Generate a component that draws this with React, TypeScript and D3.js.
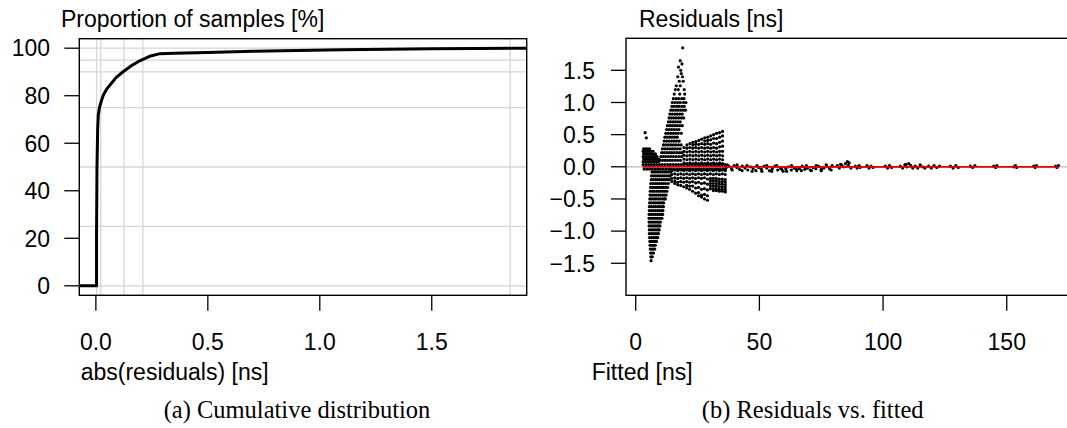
import React from 'react';
import * as d3 from 'd3';

// ---- panel (a): cumulative distribution of abs(residuals)
const ecdfX = [0.003, 0.003, 0.005, 0.008, 0.011, 0.016, 0.025, 0.034, 0.05, 0.064, 0.09, 0.123, 0.16, 0.198, 0.24, 0.287, 0.35, 0.5, 0.7, 0.9, 1.1, 1.3, 1.5, 1.7, 1.85];
const ecdfY = [0, 22, 50, 66, 72, 75, 78, 80.4, 83, 84.6, 87.6, 90.2, 92.7, 94.8, 96.6, 97.7, 97.9, 98.2, 98.7, 99.0, 99.3, 99.6, 99.8, 99.9, 100];
const gridProbs = [0, 25, 50, 75, 90, 95, 100];
const gridQuantiles = [0.003, 0.022, 0.126, 0.21, 1.85];
const absTicks = [0, 0.5, 1, 1.5];
const pctTicks = [0, 20, 40, 60, 80, 100];

// ---- panel (b): residuals vs fitted
const fittedTicks = [0, 50, 100, 150];
const residTicks = [-1.5, -1, -0.5, 0, 0.5, 1, 1.5];
const fittedRange = [2.8, 171];
const residRange = [-1.85, 1.85];
const smoothX = [2.8, 20, 60, 120, 171];
const smoothY = [0, 0.002, -0.003, 0, 0];

// rows: [residual, fitted...]
const negSpikeRows = [
  [-0.08, 6.6, 7.4, 8.3, 9.1, 10.0, 10.8, 11.7, 12.5, 13.4, 14.2],
  [-0.14, 6.4, 7.3, 8.1, 9.0, 9.8, 10.7, 11.5, 12.4, 13.2, 13.9],
  [-0.20, 6.3, 7.1, 8.0, 8.8, 9.7, 10.5, 11.4, 12.2, 13.0, 13.6],
  [-0.26, 6.1, 7.0, 7.8, 8.7, 9.5, 10.4, 11.2, 12.1, 13.2],
  [-0.32, 6.0, 6.9, 7.7, 8.6, 9.4, 10.3, 11.1, 12.0, 12.9],
  [-0.38, 5.9, 6.8, 7.6, 8.5, 9.3, 10.2, 11.0, 11.8, 12.6],
  [-0.44, 5.8, 6.6, 7.5, 8.3, 9.2, 10.0, 10.9, 11.6, 12.3],
  [-0.50, 5.7, 6.5, 7.4, 8.2, 9.1, 9.9, 10.8, 11.5, 12.0],
  [-0.56, 5.6, 6.4, 7.3, 8.1, 9.0, 9.8, 10.6, 11.3],
  [-0.62, 5.5, 6.3, 7.2, 8.0, 8.9, 9.7, 10.5, 11.2],
  [-0.68, 5.5, 6.3, 7.1, 8.0, 8.8, 9.6, 10.4, 11.0],
  [-0.74, 5.4, 6.2, 7.1, 7.9, 8.7, 9.5, 10.3, 10.9],
  [-0.80, 5.4, 6.2, 7.0, 7.8, 8.6, 9.4, 10.1, 10.6],
  [-0.86, 5.4, 6.2, 7.0, 7.8, 8.6, 9.3, 10.0],
  [-0.92, 5.4, 6.2, 7.0, 7.8, 8.5, 9.2, 9.8],
  [-0.98, 5.5, 6.3, 7.0, 7.8, 8.5, 9.1, 9.5],
  [-1.04, 5.5, 6.3, 7.0, 7.8, 8.6, 9.2],
  [-1.10, 5.6, 6.4, 7.1, 7.8, 8.4, 8.9],
  [-1.16, 5.7, 6.4, 7.1, 7.8, 8.4],
  [-1.22, 5.8, 6.5, 7.2, 7.9],
  [-1.28, 5.9, 6.6, 7.2, 7.7],
  [-1.34, 6.0, 6.6, 7.2],
  [-1.40, 6.1, 6.7],
  [-1.46, 6.2],
];

const posSpikeRows = [
  [1.85, 19.0],
  [1.65, 18.0],
  [1.60, 18.7],
  [1.55, 17.3],
  [1.50, 18.2],
  [1.45, 18.4],
  [1.40, 17.0, 18.9],
  [1.33, 17.6, 19.2],
  [1.26, 16.4, 18.0],
  [1.20, 16.0, 17.2, 19.6],
  [1.13, 15.6, 17.8, 19.8],
  [1.06, 15.2, 16.4, 17.4, 18.6, 19.5],
  [1.00, 14.8, 15.9, 17.0, 18.0, 19.3, 20.3],
  [0.94, 14.6, 15.5, 16.6, 17.5, 18.6, 19.6],
  [0.88, 14.2, 15.2, 16.2, 17.2, 18.2, 19.2, 20.1],
  [0.82, 13.8, 14.8, 15.8, 16.8, 17.8, 18.8],
  [0.76, 13.5, 14.4, 15.4, 16.4, 17.4, 18.5, 19.4],
  [0.70, 13.2, 14.1, 15.1, 16.0, 17.0, 18.0],
  [0.64, 12.8, 13.8, 14.8, 15.8, 16.8, 17.8, 18.8],
  [0.58, 12.5, 13.5, 14.5, 15.5, 16.5, 17.5],
  [0.52, 12.2, 13.2, 14.2, 15.2, 16.2, 17.2, 18.4],
  [0.46, 11.8, 12.8, 13.8, 14.8, 15.8, 16.8],
  [0.40, 11.5, 12.5, 13.5, 14.5, 15.5, 16.5, 17.6],
  [0.34, 11.2, 12.2, 13.2, 14.2, 15.2, 16.2, 17.3, 18.4],
  [0.28, 10.8, 11.8, 12.8, 13.8, 14.8, 15.8, 16.9, 18.0],
  [0.22, 10.5, 11.5, 12.5, 13.5, 14.5, 15.5, 16.6, 17.7, 18.7],
  [0.16, 10.2, 11.2, 12.2, 13.2, 14.2, 15.2, 16.3, 17.4, 18.5],
  [0.10, 9.8, 10.8, 11.8, 12.8, 13.8, 14.8, 15.9, 17.0, 18.1],
];

const leftClusterRows = [
  [0.53, 3.8],
  [0.45, 4.3],
  [0.28, 3.2, 4.0, 4.8, 5.6],
  [0.24, 3.0, 3.8, 4.6, 5.4, 6.2, 7.0],
  [0.20, 3.2, 4.0, 4.8, 5.6, 6.4, 7.2, 8.0],
  [0.16, 3.0, 3.8, 4.6, 5.4, 6.2, 7.0, 7.8, 8.6],
  [0.12, 3.2, 4.0, 4.8, 5.6, 6.4, 7.2, 8.0, 8.8, 9.4],
  [0.08, 3.0, 3.8, 4.6, 5.4, 6.2, 7.0, 7.8, 8.6, 9.2],
];

const zeroBandRows = [
  [0.035, 3.0, 4.1, 5.2, 6.3, 7.4, 8.5, 9.6, 10.7, 11.8, 12.9, 14.0, 15.1, 16.2, 17.3, 18.4, 19.5, 20.6, 21.7, 22.8, 23.9, 25.0, 26.1, 27.2, 28.3, 29.4, 30.5, 31.6, 32.7, 33.8, 34.9, 36.0],
  [-0.035, 3.4, 4.5, 5.6, 6.7, 7.8, 8.9, 10.0, 11.1, 12.2, 13.3, 14.4, 15.5, 16.6, 17.7, 18.8, 19.9, 21.0, 22.1, 23.2, 24.3, 25.4, 26.5, 27.6, 28.7, 29.8, 30.9, 32.0, 33.1, 34.2, 35.3, 36.2],
];

// columns: [fitted, residual...]
const upperFanCols = [
  [19.5, 0.06, 0.12, 0.18, 0.24, 0.30],
  [20.7, 0.05, 0.11, 0.17, 0.23, 0.29, 0.34],
  [21.9, 0.06, 0.12, 0.18, 0.24, 0.30, 0.36],
  [23.1, 0.05, 0.11, 0.17, 0.23, 0.29, 0.34, 0.38],
  [24.3, 0.06, 0.12, 0.18, 0.24, 0.30, 0.35, 0.39],
  [25.5, 0.05, 0.11, 0.17, 0.23, 0.29, 0.35, 0.41],
  [26.7, 0.06, 0.12, 0.18, 0.24, 0.30, 0.36, 0.43],
  [27.9, 0.05, 0.11, 0.17, 0.23, 0.29, 0.35, 0.40, 0.45],
  [29.1, 0.06, 0.12, 0.18, 0.24, 0.30, 0.36, 0.41, 0.46],
  [30.3, 0.05, 0.11, 0.17, 0.23, 0.29, 0.35, 0.42, 0.48],
  [31.5, 0.06, 0.12, 0.18, 0.24, 0.30, 0.37, 0.44, 0.50],
  [32.7, 0.05, 0.11, 0.17, 0.23, 0.29, 0.36, 0.44, 0.52],
  [33.9, 0.06, 0.12, 0.18, 0.24, 0.31, 0.38, 0.46, 0.53],
  [35.1, 0.05, 0.11, 0.17, 0.24, 0.32, 0.40, 0.48, 0.55],
];

const lowerFanCols = [
  [14.6, -0.06, -0.12, -0.18, -0.23],
  [15.8, -0.05, -0.11, -0.17, -0.22, -0.26],
  [17.0, -0.06, -0.12, -0.18, -0.24, -0.28],
  [18.2, -0.05, -0.11, -0.17, -0.23, -0.29],
  [19.4, -0.06, -0.12, -0.18, -0.24, -0.31],
  [20.6, -0.05, -0.11, -0.17, -0.23, -0.29, -0.33],
  [21.8, -0.06, -0.12, -0.18, -0.24, -0.30, -0.35],
  [23.0, -0.05, -0.11, -0.17, -0.23, -0.30, -0.38],
  [24.2, -0.06, -0.12, -0.18, -0.25, -0.33, -0.41],
  [25.4, -0.05, -0.11, -0.17, -0.24, -0.32, -0.40, -0.45],
  [26.6, -0.06, -0.12, -0.18, -0.26, -0.35, -0.44, -0.47],
  [27.8, -0.05, -0.11, -0.17, -0.25, -0.34, -0.43, -0.50],
  [29.0, -0.06, -0.12, -0.19, -0.27, -0.36, -0.45, -0.52],
  [30.2, -0.05, -0.11, -0.18, -0.22, -0.26, -0.30, -0.34],
  [31.4, -0.06, -0.12, -0.18, -0.22, -0.26, -0.30, -0.34, -0.37],
  [32.6, -0.05, -0.11, -0.18, -0.22, -0.26, -0.30, -0.34, -0.37],
  [33.8, -0.06, -0.12, -0.19, -0.23, -0.27, -0.31, -0.35, -0.38],
  [35.0, -0.05, -0.11, -0.19, -0.23, -0.27, -0.31, -0.35, -0.38],
  [36.2, -0.06, -0.12, -0.20, -0.24, -0.28, -0.32, -0.36, -0.39],
];

// [fitted, residual] for the long tail
const tailPoints = [
  [36.5, -0.02], [37.6, 0.01], [38.7, -0.03], [39.8, 0.02], [40.9, -0.01], [42.0, -0.04], [43.1, 0.01], [44.2, -0.02],
  [45.3, -0.05], [46.4, 0.0], [47.5, -0.03], [48.6, -0.06], [49.7, -0.01], [50.8, -0.04], [51.9, 0.01], [53.0, -0.02],
  [54.1, -0.06], [55.2, -0.03], [56.3, 0.01], [57.4, -0.05], [58.5, -0.02], [59.6, -0.07], [60.7, -0.03], [61.8, 0.0],
  [62.9, -0.05], [64.0, -0.02], [65.1, -0.06], [66.2, -0.03], [67.3, 0.01], [68.4, -0.04], [69.5, -0.02], [70.6, -0.05],
  [71.7, -0.01], [72.8, -0.03], [73.9, 0.01], [75.0, -0.04], [76.1, -0.02], [77.2, 0.01], [78.3, -0.03], [79.4, 0.02],
  [37, 0.03], [39, -0.05], [41, 0.03], [43, -0.06], [45, 0.02], [47, -0.07], [49, 0.02], [51, -0.07], [53, 0.02],
  [55, -0.07], [57, 0.02], [59, -0.04], [61, -0.07], [63, 0.02], [65, -0.04], [67, -0.06], [69, 0.02], [71, -0.06],
  [73, 0.02], [75, -0.06], [77, 0.03], [79, -0.05],
  [81.5, 0.02], [82.3, -0.02], [83.2, 0.03], [84.0, 0.0], [84.8, 0.05], [85.6, 0.08], [86.3, 0.06], [87.0, -0.02], [82.8, 0.04], [85.9, 0.02],
  [88.8, 0.01], [89.5, -0.02], [90.3, 0.02], [90.7, -0.01],
  [93.5, 0.02], [94.3, -0.02], [95.1, 0.01], [95.9, -0.01],
  [100.9, 0.01], [101.8, -0.02], [102.6, 0.02], [103.4, -0.01],
  [107.0, 0.01], [107.9, -0.02], [108.8, 0.03], [109.6, 0.0], [110.4, 0.05], [111.2, 0.02], [112.0, -0.02], [109.2, 0.04],
  [113.0, 0.01], [114.0, -0.02], [115.0, 0.03], [116.0, 0.0], [116.9, -0.02],
  [118.4, 0.01], [119.5, -0.02], [120.6, 0.02], [121.7, -0.01], [122.8, 0.01],
  [127.2, 0.01], [128.3, -0.02], [129.4, 0.02], [130.4, -0.01],
  [135.3, 0.01], [136.2, -0.01], [137.1, 0.02],
  [144.7, 0.01], [145.5, -0.01], [146.0, 0.02],
  [152.8, 0.0], [153.5, 0.02], [154.0, -0.01],
  [160.9, 0.01], [161.5, -0.01], [162.0, 0.02],
  [169.7, 0.01], [170.3, -0.01], [170.9, 0.02],
];

const W = 1067;
const H = 428;
const SANS = '"Liberation Sans", Arial, Helvetica, sans-serif';
const SERIF = '"Liberation Serif", "Times New Roman", serif';
const FS = 23;

// R-style 4% padding
const pad = (lo: number, hi: number) => [lo - 0.04 * (hi - lo), hi + 0.04 * (hi - lo)];

function rowsToPts(rows: number[][]) {
  return rows.flatMap(([r, ...xs]) => xs.map(x => [x, r]));
}
function colsToPts(cols: number[][]) {
  return cols.flatMap(([x, ...rs]) => rs.map(r => [x, r]));
}

function CdfPanel() {
  const left = 79.3, right = 526.7, top = 38.7, bottom = 295.3;
  const x = d3.scaleLinear().domain(pad(0, 1.85)).range([left, right]);
  const y = d3.scaleLinear().domain(pad(0, 100)).range([bottom, top]);
  const [x0, x1] = x.domain();
  const pts: [number, number][] = [[x0, 0], ...ecdfX.map((v, i) => [v, ecdfY[i]] as [number, number]), [x1, 100]];
  const line = d3.line<[number, number]>().x(d => x(d[0])).y(d => y(d[1]));

  return (
    <g>
      <defs>
        <clipPath id="clipA"><rect x={left} y={top} width={right - left} height={bottom - top} /></clipPath>
      </defs>
      <g stroke="#d6d6d6" strokeWidth={1.3}>
        {gridProbs.map(p => <line key={'h' + p} x1={left} x2={right} y1={y(p)} y2={y(p)} />)}
        {gridQuantiles.map(q => <line key={'v' + q} x1={x(q)} x2={x(q)} y1={top} y2={bottom} />)}
      </g>
      <path d={line(pts) || ''} fill="none" stroke="#000" strokeWidth={3} strokeLinejoin="round" clipPath="url(#clipA)" />
      <rect x={left} y={top} width={right - left} height={bottom - top} fill="none" stroke="#000" strokeWidth={1.4} />
      <g stroke="#000" strokeWidth={1.3}>
        {pctTicks.map(t => <line key={t} x1={left - 15} x2={left} y1={y(t)} y2={y(t)} />)}
        {absTicks.map(t => <line key={t} x1={x(t)} x2={x(t)} y1={bottom} y2={bottom + 15.4} />)}
      </g>
      <g fontFamily={SANS} fontSize={FS} fill="#000">
        {pctTicks.map(t => (
          <text key={t} x={50} y={y(t)} dy="0.36em" textAnchor="end">{t}</text>
        ))}
        {absTicks.map(t => (
          <text key={t} x={x(t)} y={349.5} textAnchor="middle">{d3.format('.1f')(t)}</text>
        ))}
        <text x={61} y={27.3}>Proportion of samples [%]</text>
        <text x={80.7} y={380}>abs(residuals) [ns]</text>
      </g>
      <text x={297} y={418} textAnchor="middle" fontFamily={SERIF} fontSize={24.5}>(a) Cumulative distribution</text>
    </g>
  );
}

function ResidPanel() {
  const left = 626, top = 38.3, bottom = 295.3;
  const xs = d3.scaleLinear().domain(pad(fittedRange[0], fittedRange[1])).range([left, left + 181.7 * 2.473]);
  const ys = d3.scaleLinear().domain(pad(residRange[0], residRange[1])).range([bottom, top]);
  const right = xs.range()[1];
  const points = [
    ...rowsToPts(zeroBandRows),
    ...rowsToPts(negSpikeRows),
    ...rowsToPts(posSpikeRows),
    ...rowsToPts(leftClusterRows),
    ...colsToPts(upperFanCols),
    ...colsToPts(lowerFanCols),
    ...tailPoints,
  ];
  const smooth = d3.line<number>().x(d => xs(d)).y((d, i) => ys(smoothY[i]));

  return (
    <g>
      <defs>
        <clipPath id="clipB"><rect x={left} y={top} width={right - left} height={bottom - top} /></clipPath>
      </defs>
      <g clipPath="url(#clipB)">
        <line x1={left} x2={right} y1={ys(0)} y2={ys(0)} stroke="#bdbdbd" strokeWidth={1.3} />
        {points.map((p, i) => <circle key={i} cx={xs(p[0])} cy={ys(p[1])} r={1.6} fill="#000" />)}
        <path d={smooth(smoothX) || ''} fill="none" stroke="#e00000" strokeWidth={1.8} />
      </g>
      <rect x={left} y={top} width={right - left} height={bottom - top} fill="none" stroke="#000" strokeWidth={1.4} />
      <g stroke="#000" strokeWidth={1.3}>
        {residTicks.map(t => <line key={t} x1={left - 15} x2={left} y1={ys(t)} y2={ys(t)} />)}
        {fittedTicks.map(t => <line key={t} x1={xs(t)} x2={xs(t)} y1={bottom} y2={bottom + 15.4} />)}
      </g>
      <g fontFamily={SANS} fontSize={FS} fill="#000">
        {residTicks.map(t => (
          <text key={t} x={595} y={ys(t)} dy="0.36em" textAnchor="end">{d3.format('.1f')(t).replace('-', '\u2212')}</text>
        ))}
        {fittedTicks.map(t => (
          <text key={t} x={xs(t)} y={349.5} textAnchor="middle">{t}</text>
        ))}
        <text x={639} y={27.3}>Residuals [ns]</text>
        <text x={591.7} y={380}>Fitted [ns]</text>
      </g>
      <text x={812.7} y={418} textAnchor="middle" fontFamily={SERIF} fontSize={24.5}>(b) Residuals vs. fitted</text>
    </g>
  );
}

export default function App() {
  return (
    <div style={{ position: 'absolute', left: 0, top: 0 }}>
      <svg width={W} height={H} style={{ display: 'block', background: '#fff' }}>
        <CdfPanel />
        <ResidPanel />
      </svg>
    </div>
  );
}
